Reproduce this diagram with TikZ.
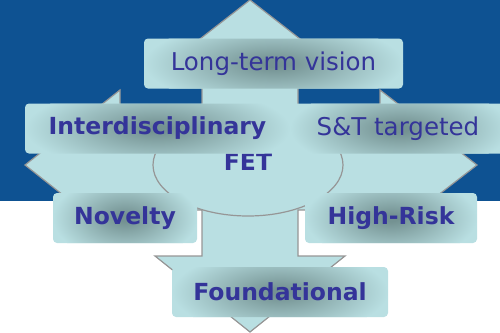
\documentclass[tikz,border=0pt]{standalone}
\usepackage{fontspec}
\setmainfont{DejaVu Sans}
\usepackage{tikz}
\usetikzlibrary{shapes, backgrounds, calc}
\usepackage{xcolor}

\definecolor{bgblue}{RGB}{14,82,146}
\definecolor{crossfill}{RGB}{185,223,226}
\definecolor{crossline}{RGB}{150,150,150}
\definecolor{boxdark}{RGB}{116,146,146}
\definecolor{labeltext}{RGB}{52,52,153}

\pgfdeclareradialshading{boxglow}{\pgfpoint{0bp}{0bp}}{color(0bp)=(boxdark); color(2bp)=(boxdark); color(25bp)=(crossfill); color(50bp)=(crossfill)}

\tikzset{
    labelbox/.style={fill=crossfill, rounded corners=4pt, minimum height=50pt, inner sep=0pt, text=labeltext, font=\fontsize{24.5}{28}\selectfont,
        path picture={\shade [shading=boxglow] let \p1=(path picture bounding box.east), \p2=(path picture bounding box.center) in (\p2) ellipse [x radius={\x1-\x2}, y radius=42pt];}},
    boldbox/.style={labelbox, font=\fontsize{23.5}{28}\selectfont\bfseries},
}

\begin{document}
\begin{tikzpicture}[x=1pt, y=-1pt]

                \useasboundingbox (0,0) rectangle (500,332);

                \coordinate (hub) at (248,165);

                \fill [bgblue] (0,0) rectangle (500,201);

                \draw [crossline, fill=crossfill, line width=1.2pt] (250,0) -- (345,74) -- (298,74) -- (298,120) -- (380,120) -- (380,90) -- (477,165) -- (380,240) -- (380,210) -- (298,210) -- (298,256) -- (345,256) -- (250,332) -- (155,256) -- (202,256) -- (202,210) -- (120,210) -- (120,240) -- (25,165) -- (120,90) -- (120,120) -- (202,120) -- (202,74) -- (155,74) -- cycle;

                \draw [crossline, line width=1.2pt] (hub) ellipse [x radius=95pt, y radius=51pt];

                \node [text=labeltext, font=\fontsize{23.5}{28}\selectfont\bfseries] (fet) at (248,162) {FET};

                \node [labelbox, minimum width=259pt] (vision) at (273.5,63.5) {Long-term vision};
                \node [boldbox, minimum width=265pt] (inter) at (157.5,128.5) {Interdisciplinary};
                \node [labelbox, minimum width=220pt] (st) at (400,128.5) {\hspace*{-4pt}S\&T targeted};
                \node [boldbox, minimum width=144pt] (novelty) at (125,218) {Novelty};
                \node [boldbox, minimum width=172pt] (risk) at (391,218) {High-Risk};
                \node [boldbox, minimum width=216pt] (found) at (280,292) {Foundational};

            \end{tikzpicture}
\end{document}
